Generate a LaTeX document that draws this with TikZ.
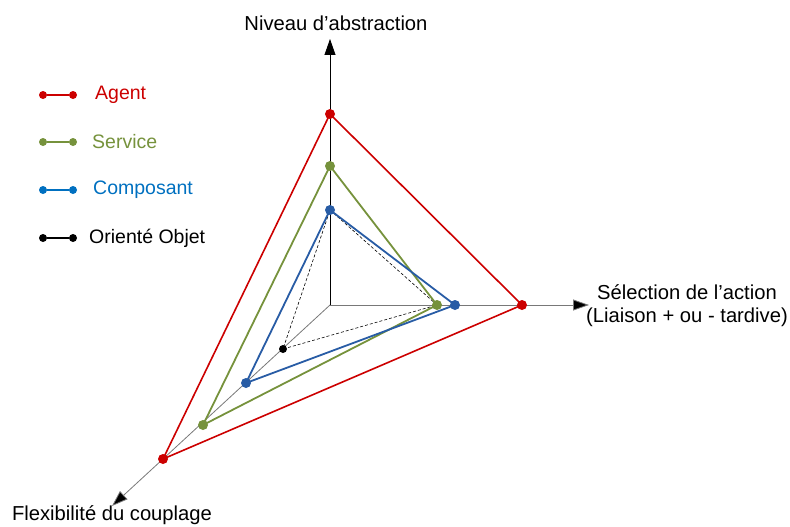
\documentclass[tikz,border=0pt]{standalone}
\usepackage{fontspec}
\setmainfont{Liberation Sans}
\usetikzlibrary{arrows.meta}
\definecolor{agentred}{RGB}{204,0,0}
\definecolor{servicegreen}{RGB}{118,146,60}
\definecolor{compblue}{RGB}{0,112,192}
\definecolor{compline}{RGB}{40,92,165}
\definecolor{axisgray}{RGB}{120,120,120}
\begin{document}
\begin{tikzpicture}[
        x=1pt, y=-1pt,
        txt/.style={font=\fontsize{19.5}{23}\selectfont, align=center, inner sep=0pt},
        axistxt/.style={txt, font=\fontsize{20.2}{23}\selectfont},
        axis/.style={-{Triangle[length=16pt,width=11pt,fill=black]}, line width=0.8pt},
        dot/.style={circle, fill=#1, inner sep=0pt, minimum size=10pt},
        legdot/.style={circle, fill=#1, inner sep=0pt, minimum size=8pt},
        agent/.style={draw=agentred, line width=1.6pt, line join=round},
        service/.style={draw=servicegreen, line width=1.8pt, line join=round},
        composant/.style={draw=compline, line width=1.8pt, line join=round},
        objet/.style={draw=black, dashed, line width=0.6pt, dash pattern=on 3pt off 2pt}
    ]
    \useasboundingbox (0,0) rectangle (790,527);

    % Axes
    \coordinate (O) at (330,305);
    \coordinate (abs) at (330,39);
    \coordinate (sel) at (589,305);
    \coordinate (flex) at (112,506);
    \draw[axis, black] (O) -- (abs);
    \draw[axis, axisgray] (O) -- (sel);
    \draw[axis, axisgray] (O) -- (flex);

    % Axis labels
    \node[axistxt] (abslabel) at (336,23) {Niveau d’abstraction};
    \node[axistxt] (sellabel) at (687,306) {Sélection de l’action\\(Liaison + ou - tardive)};
    \node[axistxt] (flexlabel) at (112,515) {Flexibilité du couplage};

    % Vertices
    \coordinate (a1) at (330,114);
    \coordinate (a2) at (522,305);
    \coordinate (a3) at (163,459);
    \coordinate (s1) at (330,166);
    \coordinate (s2) at (437,305);
    \coordinate (s3) at (203,425);
    \coordinate (c1) at (330,210);
    \coordinate (c2) at (455,305);
    \coordinate (c3) at (246,383);
    \coordinate (o3) at (283,349);

    % Profiles
    \draw[objet] (c1) -- (s2) -- (o3) -- cycle;
    \draw[agent] (a1) -- (a2) -- (a3) -- cycle;
    \draw[service] (s1) -- (s2) -- (s3) -- cycle;
    \draw[composant] (c1) -- (c2) -- (c3) -- cycle;

    \node[dot=agentred] (a1dot) at (a1) {};
    \node[dot=agentred] (a2dot) at (a2) {};
    \node[dot=agentred] (a3dot) at (a3) {};
    \node[dot=servicegreen] (s1dot) at (s1) {};
    \node[dot=servicegreen] (s3dot) at (s3) {};
    \node[dot=compline] (c1dot) at (c1) {};
    \node[dot=compline] (c2dot) at (c2) {};
    \node[dot=compline] (c3dot) at (c3) {};
    \node[dot=servicegreen] (s2dot) at (s2) {};
    \node[dot=black, minimum size=8pt] (o3dot) at (o3) {};

    % Legend
    \node[legdot=agentred] (la1) at (43,95) {};
    \node[legdot=agentred] (la2) at (73,95) {};
    \draw[agentred, line width=1.2pt] (la1) -- (la2);
    \node[txt, anchor=west, text=agentred] (lagent) at (95,95) {Agent};

    \node[legdot=servicegreen] (ls1) at (43,142) {};
    \node[legdot=servicegreen] (ls2) at (73,142) {};
    \draw[servicegreen, line width=1.2pt] (ls1) -- (ls2);
    \node[txt, anchor=west, text=servicegreen] (lservice) at (92,142) {Service};

    \node[legdot=compblue] (lc1) at (43,190) {};
    \node[legdot=compblue] (lc2) at (73,190) {};
    \draw[compblue, line width=1.2pt] (lc1) -- (lc2);
    \node[txt, anchor=west, text=compblue] (lcomposant) at (93,190) {Composant};

    \node[legdot=black] (lo1) at (43,238) {};
    \node[legdot=black] (lo2) at (73,238) {};
    \draw[black, line width=1.2pt] (lo1) -- (lo2);
    \node[txt, anchor=west] (lobjet) at (89,238) {Orienté Objet};

\end{tikzpicture}
\end{document}
